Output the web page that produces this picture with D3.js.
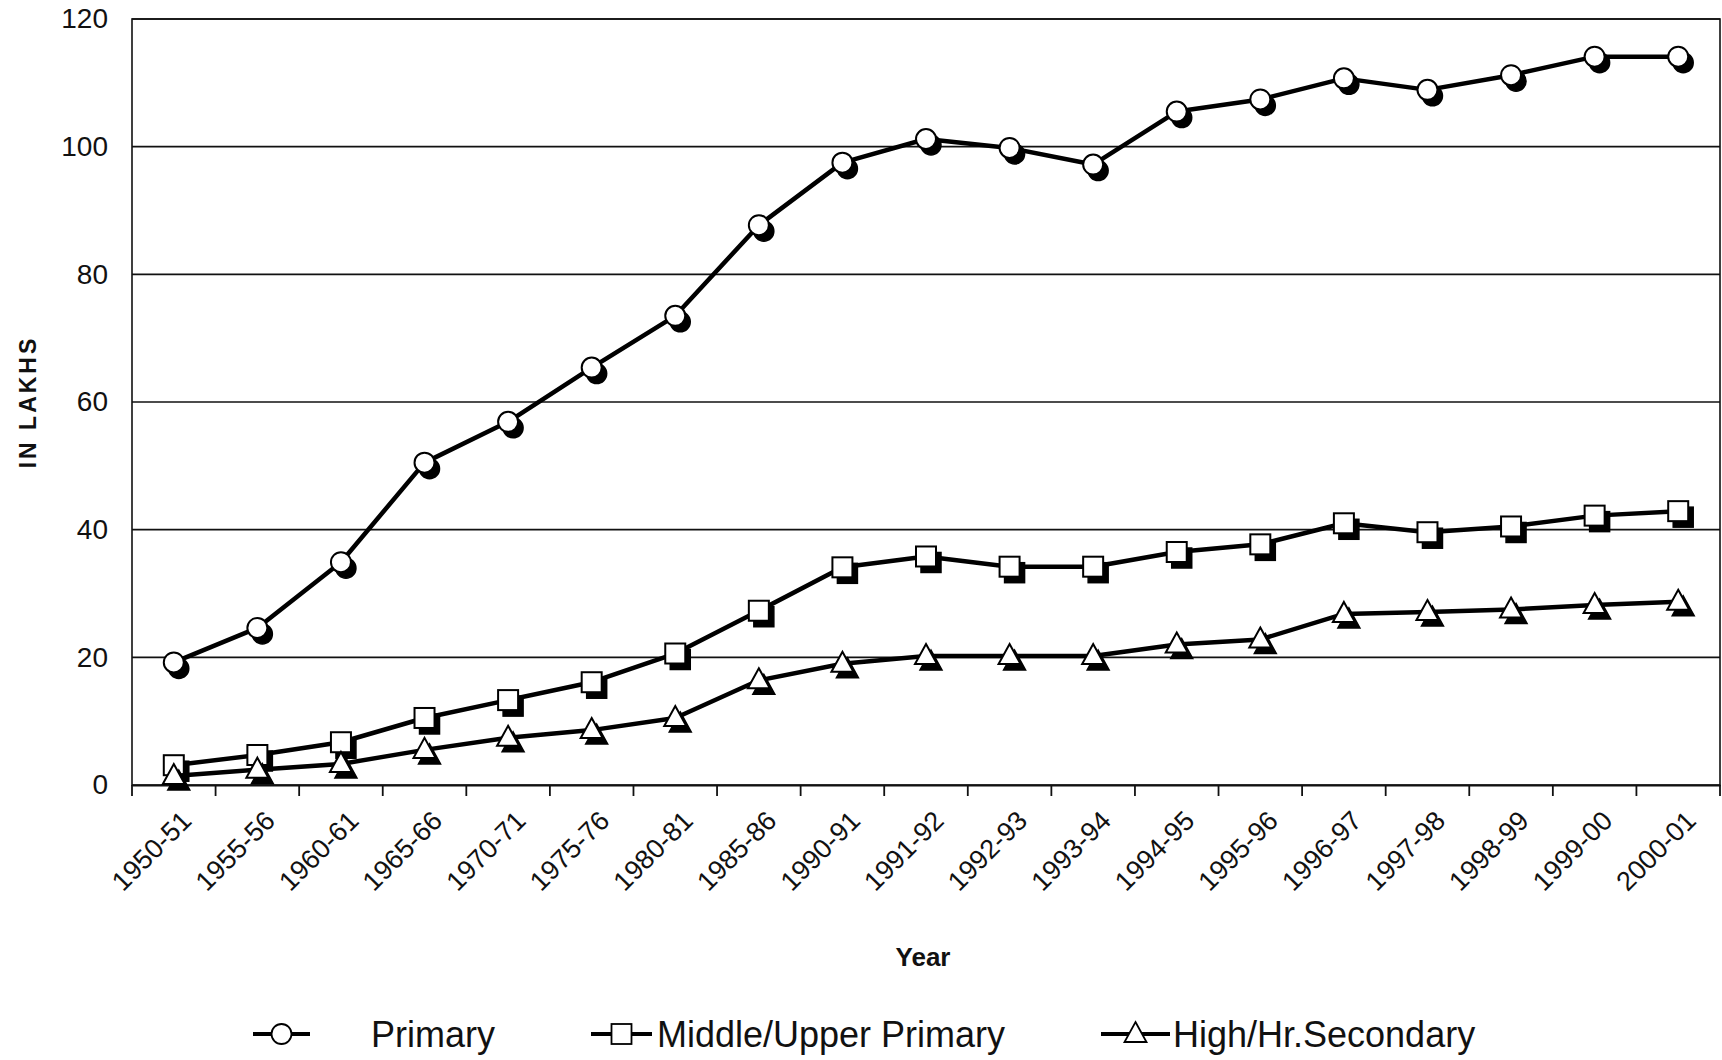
<!DOCTYPE html>
<html><head><meta charset="utf-8">
<script src="https://cdn.jsdelivr.net/npm/d3@7"></script>
<style>
html,body{margin:0;padding:0;background:#fff;}
svg{display:block;}
text{font-family:"Liberation Sans",Arial,sans-serif;fill:#111;}
</style></head>
<body>
<svg id="chart" width="1722" height="1060"></svg>
<script>
const categories = ["1950-51","1955-56","1960-61","1965-66","1970-71","1975-76","1980-81","1985-86","1990-91","1991-92","1992-93","1993-94","1994-95","1995-96","1996-97","1997-98","1998-99","1999-00","2000-01"];
const primary = [19.2,24.6,34.9,50.5,56.9,65.4,73.5,87.7,97.5,101.2,99.8,97.2,105.5,107.4,110.7,108.9,111.2,114.1,114.1];
const middle  = [3.1,4.7,6.7,10.5,13.3,16.1,20.6,27.3,34.1,35.8,34.2,34.2,36.5,37.7,41.0,39.6,40.5,42.2,42.9];
const high    = [1.4,2.4,3.3,5.5,7.4,8.6,10.5,16.4,19.0,20.2,20.2,20.2,22.0,22.8,26.8,27.1,27.5,28.2,28.7];
const yTicks = [0,20,40,60,80,100,120];
const seriesNames = ["Primary","Middle/Upper Primary","High/Hr.Secondary"];
const seriesSymbols = ["circle","square","triangle"];

const svg = d3.select("#chart");
const m = {left:132, right:1720, top:19, bottom:785};

const x = d3.scaleBand().domain(categories).range([m.left, m.right]);
const y = d3.scaleLinear().domain([0,120]).range([m.bottom, m.top]);

// grid lines
svg.append("g").selectAll("line").data(yTicks.filter(d=>d>0)).join("line")
  .attr("x1", m.left).attr("x2", m.right)
  .attr("y1", d=>y(d)).attr("y2", d=>y(d))
  .attr("stroke","#111").attr("stroke-width",1.6);

// plot border
svg.append("rect").attr("x",m.left).attr("y",m.top)
  .attr("width",m.right-m.left).attr("height",m.bottom-m.top)
  .attr("fill","none").attr("stroke","#111").attr("stroke-width",1.6);

// y axis labels
const yAxis = d3.axisLeft(y).tickValues(yTicks).tickSize(0).tickPadding(24);
const gy = svg.append("g").attr("transform",`translate(${m.left},0)`).call(yAxis);
gy.select(".domain").remove();
gy.selectAll("text").style("font-size","28px").attr("fill","#111").style("font-family","'Liberation Sans',Arial,sans-serif");

// x axis ticks at band boundaries
const xAxis = d3.axisBottom(x).tickSize(0).tickFormat("");
const gx = svg.append("g").attr("transform",`translate(0,${m.bottom})`).call(xAxis);
gx.select(".domain").attr("stroke","#111").attr("stroke-width",2);
const bounds = categories.map(c=>x(c)).concat([m.right]);
gx.selectAll("line.bt").data(bounds).join("line").attr("class","bt")
  .attr("x1",d=>d).attr("x2",d=>d).attr("y1",0).attr("y2",11)
  .attr("stroke","#111").attr("stroke-width",1.8);

// x labels rotated
svg.append("g").selectAll("text").data(categories).join("text")
  .attr("transform", d=>`translate(${x(d)+x.bandwidth()/2+6},${m.bottom+24}) rotate(-45)`)
  .attr("text-anchor","end")
  .attr("dy","0.7em")
  .style("font-size","27px")
  .text(d=>d);

// axis titles
svg.append("text").attr("x", (m.left+m.right)/2 - 3).attr("y", 966)
  .attr("text-anchor","middle").style("font-size","26px").style("font-weight","bold").text("Year");
svg.append("text").attr("transform",`translate(36,${(m.top+m.bottom)/2}) rotate(-90)`)
  .attr("text-anchor","middle").style("font-size","23px").style("font-weight","bold")
  .style("letter-spacing","3px").text("IN LAKHS");

// marker shapes
function drawMarker(g, type, cx, cy, fill, stroke, sw){
  if(type==="circle"){
    g.append("circle").attr("cx",cx).attr("cy",cy).attr("r",10)
      .attr("fill",fill).attr("stroke",stroke).attr("stroke-width",sw);
  } else if(type==="square"){
    g.append("rect").attr("x",cx-10).attr("y",cy-10).attr("width",20).attr("height",20)
      .attr("fill",fill).attr("stroke",stroke).attr("stroke-width",sw);
  } else {
    const h=20, w=22;
    g.append("path").attr("d",`M${cx},${cy-h*0.6}L${cx+w/2},${cy+h*0.4}L${cx-w/2},${cy+h*0.4}Z`)
      .attr("fill",fill).attr("stroke",stroke).attr("stroke-width",sw).attr("stroke-linejoin","miter");
  }
}

const allSeries = [primary, middle, high];
const line = d3.line().x((d,i)=>x(categories[i])+x.bandwidth()/2).y(d=>y(d));

allSeries.forEach((vals, si)=>{
  const g = svg.append("g");
  g.append("path").datum(vals).attr("d",line)
    .attr("fill","none").attr("stroke","#000").attr("stroke-width",4.5).attr("stroke-linejoin","round");
  vals.forEach((v,i)=>{
    const cx = x(categories[i])+x.bandwidth()/2, cy = y(v);
    drawMarker(g, seriesSymbols[si], cx+5, cy+6, "#000", "#000", 1.5);
  });
  vals.forEach((v,i)=>{
    const cx = x(categories[i])+x.bandwidth()/2, cy = y(v);
    drawMarker(g, seriesSymbols[si], cx, cy, "#fff", "#000", 2);
  });
});

// legend
const legendY = 1034;
const legendItems = [
  {sx0:253, sx1:310, tx:371},
  {sx0:591, sx1:652, tx:657},
  {sx0:1101, sx1:1170, tx:1173}
];
const lg = svg.append("g");
legendItems.forEach((it, i)=>{
  lg.append("line").attr("x1",it.sx0).attr("x2",it.sx1).attr("y1",legendY).attr("y2",legendY)
    .attr("stroke","#000").attr("stroke-width",4);
  drawMarker(lg, seriesSymbols[i], (it.sx0+it.sx1)/2, legendY, "#fff", "#000", 1.8);
  lg.append("text").attr("x",it.tx).attr("y",legendY).attr("dy","0.36em")
    .style("font-size","36px").text(seriesNames[i]);
});
</script>
</body></html>
